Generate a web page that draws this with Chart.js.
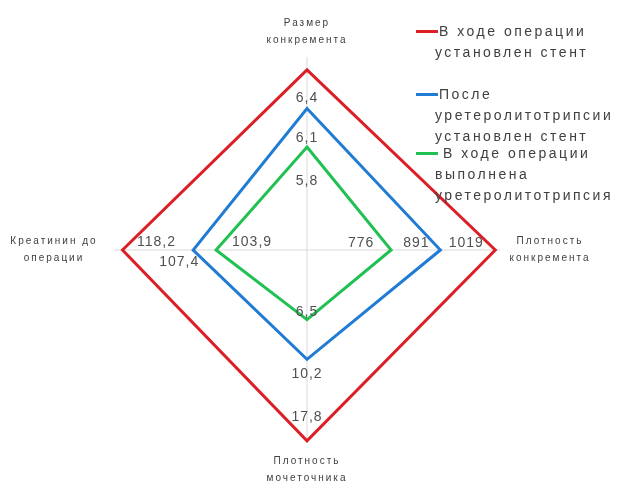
<!DOCTYPE html>
<html lang="ru">
<head>
<meta charset="utf-8">
<title>Радарная диаграмма</title>
<script src="https://cdn.jsdelivr.net/npm/chart.js@4/dist/chart.umd.min.js"></script>
<style>
  html, body { margin: 0; padding: 0; background: #fff; overflow: hidden; }
  #wrap { position: relative; width: 618px; height: 482px; }
  #chart { position: absolute; left: 0; top: 0; }
  .legend-text {
    position: absolute; left: 435px; width: 190px;
    font: 14px "Liberation Sans", Arial, sans-serif;
    letter-spacing: 2.5px; line-height: 21px; color: #404040;
  }
  .legend-swatch { position: absolute; left: 416px; width: 22px; height: 3px; }
</style>
</head>
<body>
<div id="wrap">
  <canvas id="chart" width="618" height="482"></canvas>
  <div id="legend"></div>
</div>
<script>
// Spokes of the radar (top, right, bottom, left)
const categories = [
  ["Размер", "конкремента"],
  ["Плотность", "конкремента"],
  ["Плотность", "мочеточника"],
  ["Креатинин до", "операции"]
];

const seriesNames = [
  "В ходе операции установлен стент",
  "После уретеролитотрипсии установлен стент",
  "В ходе операции выполнена уретеролитотрипсия"
];

const stentDuringSurgery       = [6.4, 1019, 17.8, 118.2];
const stentAfterLithotripsy    = [6.1,  891, 10.2, 107.4];
const lithotripsyDuringSurgery = [5.8,  776,  6.5, 103.9];

// Every spoke has its own value range (centre .. outer end)
const axisMin = [5.0,  580,  0,  90];
const axisMax = [6.5, 1030, 18, 119.5];

const seriesValues = [stentDuringSurgery, stentAfterLithotripsy, lithotripsyDuringSurgery];
const seriesColors = ["#dc1f26", "#1f7bd3", "#20c152"];

// Layout: value-label offsets from each vertex, spoke-label distances, legend rows
const valueLabelOffsets = [
  [[0, 28], [-29, -7], [0, -24], [34, -8]],
  [[0, 30], [-24, -7], [0, 15], [-14, 12]],
  [[0, 34], [-30, -7], [0, -8], [36, -8]]
];
const spokeLabelGap = [25.5, 50, 26.5, 60];
const legendRowTop = [31, 94, 153];
const legendIndent = [4, 4, 8];

const toSpoke = (v, i) => (v - axisMin[i]) / (axisMax[i] - axisMin[i]);
const fmt = v => String(v).replace(".", ",");

const spokeLabels = {
  id: "spokeLabels",
  afterDraw(chart) {
    const scale = chart.scales.r;
    const ctx = chart.ctx;
    const lh = 17;
    ctx.save();
    ctx.font = '10px "Liberation Sans", Arial, sans-serif';
    ctx.letterSpacing = "2px";
    ctx.fillStyle = "#404040";
    ctx.textAlign = "center";
    ctx.textBaseline = "middle";
    chart.data.labels.forEach((lines, i) => {
      const p = scale.getPointPosition(i, scale.drawingArea + spokeLabelGap[i]);
      const y0 = p.y - (lines.length - 1) * lh / 2;
      lines.forEach((t, k) => ctx.fillText(t, p.x, y0 + k * lh));
    });
    ctx.restore();
  }
};

const valueLabels = {
  id: "valueLabels",
  afterDatasetsDraw(chart) {
    const ctx = chart.ctx;
    ctx.save();
    ctx.font = '14px "Liberation Sans", Arial, sans-serif';
    ctx.letterSpacing = "1px";
    ctx.fillStyle = "#505050";
    ctx.textAlign = "center";
    ctx.textBaseline = "middle";
    seriesValues.forEach((vals, d) => {
      const meta = chart.getDatasetMeta(d);
      meta.data.forEach((pt, i) => {
        const [dx, dy] = valueLabelOffsets[d][i];
        ctx.fillText(fmt(vals[i]), pt.x + dx, pt.y + dy);
      });
    });
    ctx.restore();
  }
};

new Chart(document.getElementById("chart"), {
  type: "radar",
  data: {
    labels: categories,
    datasets: seriesValues.map((vals, d) => ({
      label: seriesNames[d],
      data: vals.map(toSpoke),
      borderColor: seriesColors[d],
      backgroundColor: seriesColors[d],
      borderWidth: 3,
      fill: false,
      pointRadius: 0,
      pointHoverRadius: 0,
      tension: 0
    }))
  },
  options: {
    responsive: false,
    animation: false,
    layout: { padding: { left: 114, right: 118, top: 57, bottom: 39 } },
    plugins: {
      legend: { display: false },
      tooltip: { enabled: false }
    },
    scales: {
      r: {
        min: 0,
        max: 1,
        ticks: { display: false },
        grid: { display: false },
        angleLines: { display: true, color: "#d9d9d9", lineWidth: 1 },
        pointLabels: { display: false }
      }
    }
  },
  plugins: [spokeLabels, valueLabels]
});

// Legend
const legend = document.getElementById("legend");
seriesNames.forEach((name, d) => {
  const sw = document.createElement("div");
  sw.className = "legend-swatch";
  sw.style.top = (legendRowTop[d] - 1.5) + "px";
  sw.style.background = seriesColors[d];
  legend.appendChild(sw);
  const tx = document.createElement("div");
  tx.className = "legend-text";
  tx.style.top = (legendRowTop[d] - 10.5) + "px";
  tx.style.textIndent = legendIndent[d] + "px";
  tx.textContent = name;
  legend.appendChild(tx);
});
</script>
</body>
</html>
